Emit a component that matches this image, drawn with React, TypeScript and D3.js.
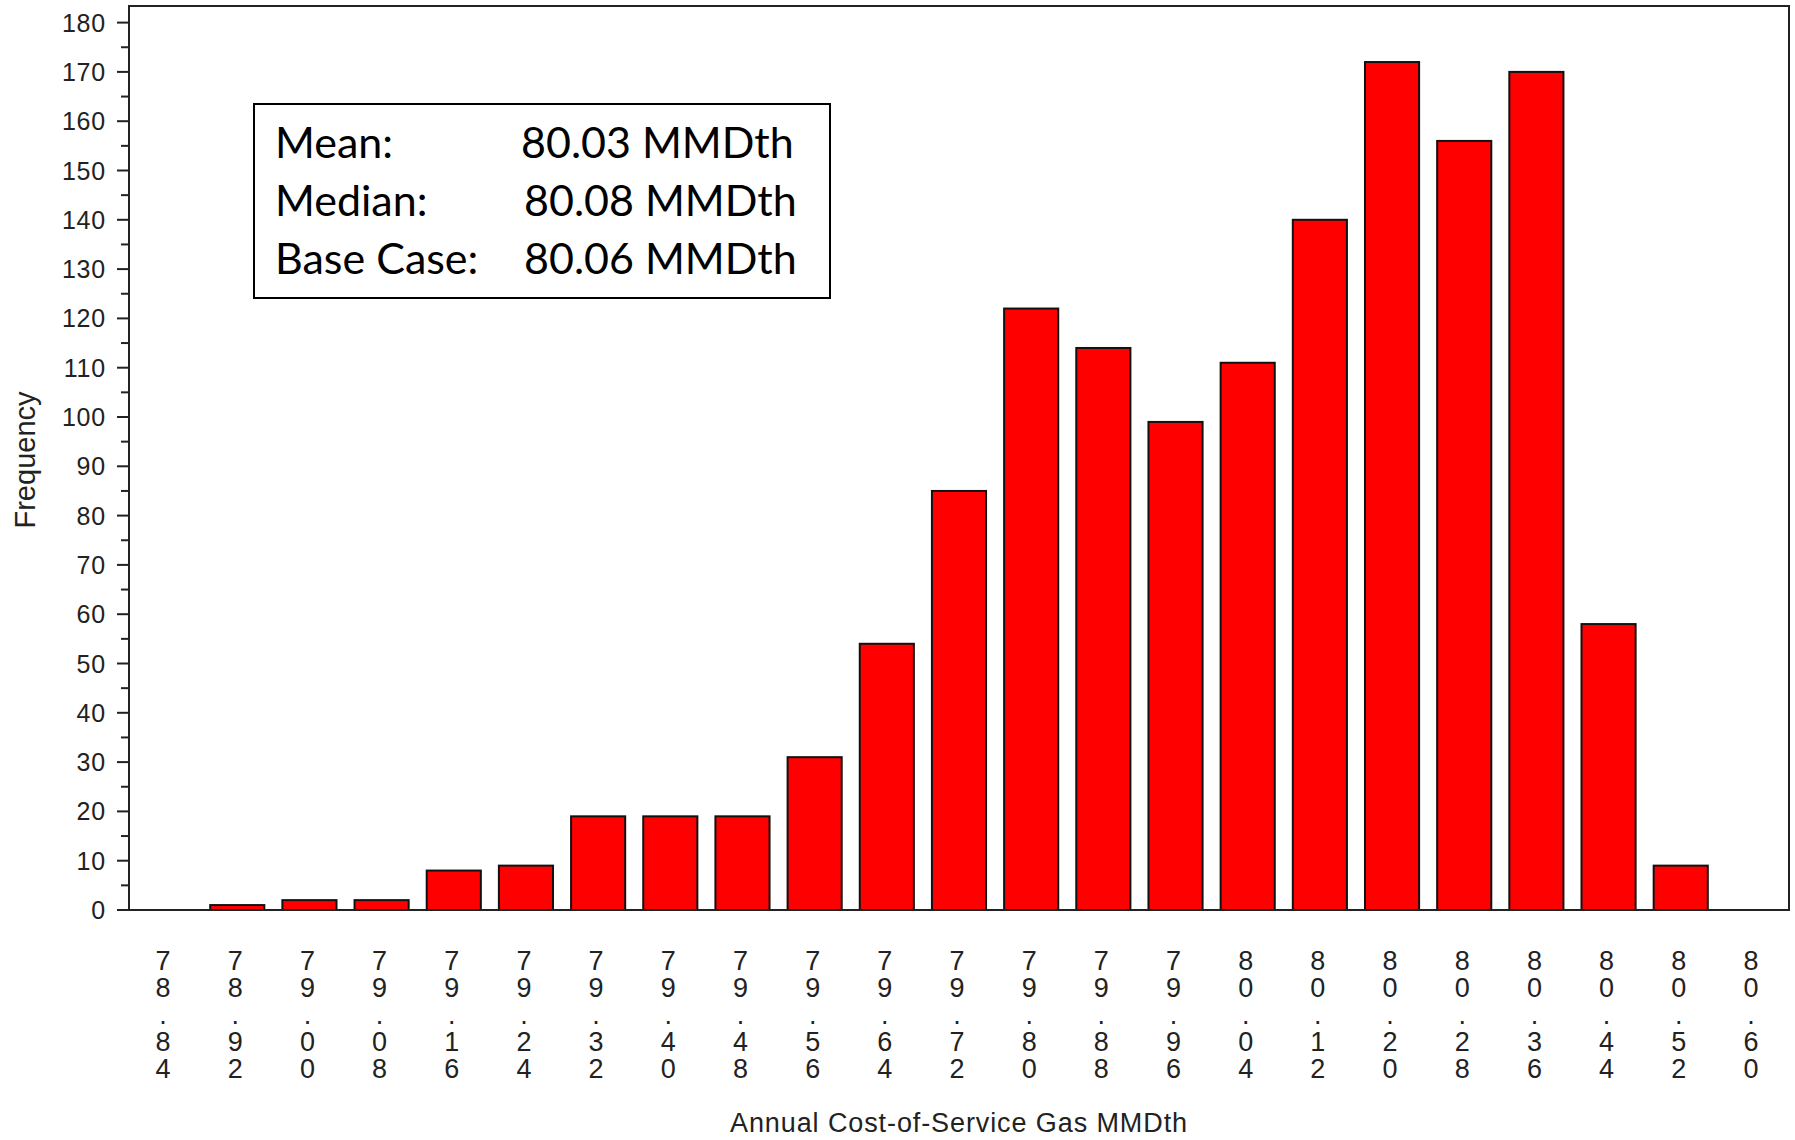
import React from "react";
import * as d3 from "d3";

const categories: string[] = [
  "78.84", "78.92", "79.00", "79.08", "79.16", "79.24", "79.32", "79.40",
  "79.48", "79.56", "79.64", "79.72", "79.80", "79.88", "79.96", "80.04",
  "80.12", "80.20", "80.28", "80.36", "80.44", "80.52", "80.60",
];
const frequencies: number[] = [
  0, 1, 2, 2, 8, 9, 19, 19, 19, 31, 54, 85, 122, 114, 99, 111, 140, 172, 156, 170, 58, 9, 0,
];
const majorTicks: number[] = d3.range(0, 181, 10);
const minorTicks: number[] = d3.range(5, 180, 10);
const statLabels: string[] = ["Mean:", "Median:", "Base Case:"];
const statValues: string[] = ["80.03 MMDth", "80.08 MMDth", "80.06 MMDth"];
const xTitle = "Annual Cost-of-Service Gas MMDth";
const yTitle = "Frequency";

const W = 1795;
const H = 1140;
const plotLeft = 129;
const plotRight = 1789;
const plotTop = 6;
const plotBottom = 910;

export default function App() {
  const x = d3
    .scaleBand<string>()
    .domain(categories)
    .range([plotLeft, plotRight])
    .paddingInner(0.25)
    .paddingOuter(0.125);
  const y = d3.scaleLinear().domain([0, 180]).range([plotBottom, 22.6]);

  const axisFont = "'Liberation Sans', Arial, sans-serif";
  const textColor = "#222";

  return (
    <svg
      width={W}
      height={H}
      style={{ position: "absolute", left: 0, top: 0, background: "#fff" }}
    >
      <rect x={0} y={0} width={W} height={H} fill="#fff" />
      {/* bars */}
      {categories.map((c, i) =>
        frequencies[i] > 0 ? (
          <rect
            key={c}
            x={x(c)!}
            y={y(frequencies[i])}
            width={x.bandwidth()}
            height={y(0) - y(frequencies[i])}
            fill="#ff0000"
            stroke="#111"
            strokeWidth={2}
          />
        ) : null
      )}
      {/* frame */}
      <rect
        x={plotLeft}
        y={plotTop}
        width={plotRight - plotLeft}
        height={plotBottom - plotTop}
        fill="none"
        stroke="#222"
        strokeWidth={2}
      />
      {/* y ticks */}
      {majorTicks.map((t) => (
        <g key={"M" + t}>
          <line x1={117} x2={plotLeft} y1={y(t)} y2={y(t)} stroke="#222" strokeWidth={2} />
          <text
            x={106}
            y={y(t)}
            dy="0.36em"
            textAnchor="end"
            fontFamily={axisFont}
            fontSize={25}
            fill={textColor}
            letterSpacing={0.8}
          >
            {t}
          </text>
        </g>
      ))}
      {minorTicks.map((t) => (
        <line key={"m" + t} x1={121} x2={plotLeft} y1={y(t)} y2={y(t)} stroke="#222" strokeWidth={2} />
      ))}
      {/* x labels stacked vertically */}
      {categories.map((c) => {
        const cx = x(c)! + x.bandwidth() / 2 - 2;
        return (
          <text
            key={"x" + c}
            textAnchor="middle"
            fontFamily={axisFont}
            fontSize={27}
            fill={textColor}
          >
            {c.split("").map((ch, j) => (
              <tspan key={j} x={cx} y={970 + j * 27}>
                {ch}
              </tspan>
            ))}
          </text>
        );
      })}
      {/* axis titles */}
      <text
        x={(plotLeft + plotRight) / 2}
        y={1132}
        textAnchor="middle"
        fontFamily={axisFont}
        fontSize={27}
        letterSpacing={0.9}
        fill={textColor}
      >
        {xTitle}
      </text>
      <text
        transform="translate(35,460) rotate(-90)"
        textAnchor="middle"
        fontFamily={axisFont}
        fontSize={29}
        fill={textColor}
      >
        {yTitle}
      </text>
      {/* stats box */}
      <rect x={254} y={104} width={576} height={194} fill="#fff" stroke="#000" strokeWidth={2} />
      {statLabels.map((s, i) => (
        <text
          key={s}
          x={275}
          y={158 + i * 58}
          fontFamily="Lato, 'Open Sans', sans-serif"
          fontSize={43}
          fill="#000"
        >
          {s}
        </text>
      ))}
      {statValues.map((s, i) => (
        <text
          key={s}
          x={i === 0 ? 521 : 524}
          y={158 + i * 58}
          fontFamily="Lato, 'Open Sans', sans-serif"
          fontSize={43}
          fill="#000"
        >
          {s}
        </text>
      ))}
    </svg>
  );
}
